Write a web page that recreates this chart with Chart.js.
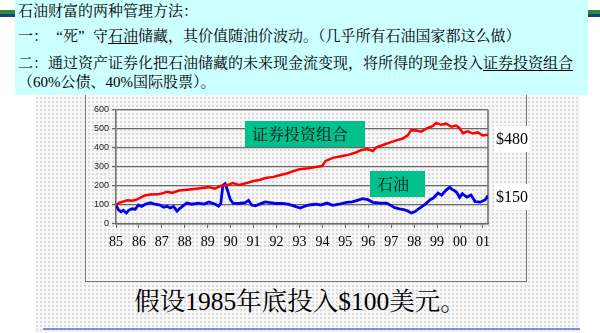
<!DOCTYPE html>
<html>
<head>
<meta charset="utf-8">
<script src="https://cdn.jsdelivr.net/npm/chart.js@4.4.1/dist/chart.umd.min.js"></script>
<style>
  html, body { margin: 0; padding: 0; }
  body { width: 600px; height: 333px; overflow: hidden; position: relative; background: #ffffff;
         font-family: "Liberation Serif", "Noto Serif CJK SC", "Noto Sans CJK SC", serif; color: #000; }
  #bg { position: absolute; left: 35px; top: 0; width: 545px; height: 333px; background-color: #f7f7f7;
        background-image: radial-gradient(#dadada 0.7px, transparent 0.9px); background-size: 4px 4px; }
  .bar { position: absolute; top: 10px; height: 4px; background: #2a8a3c; }
  .bar2 { position: absolute; top: 14px; height: 3px; background: #1c3f7f; }
  #frame { position: absolute; left: 85px; top: 60px; width: 440px; height: 220px; border: 1.5px solid #7a7a7a; }
  #note { position: absolute; left: 15px; top: 0; width: 573px; height: 95px; background: #ccffff; }
  .ln { position: absolute; left: 3px; font-size: 15px; line-height: 18px; white-space: nowrap; }
  .u { text-decoration: underline; text-underline-offset: 2px; }
  .ql { display: inline-block; width: 15px; text-align: right; }
  .qr { display: inline-block; width: 15px; text-align: left; }
  #wrap { position: absolute; left: 86px; top: 96px; width: 440px; height: 185px; }
  .tag { position: absolute; background: #00c18c; font-family: "Noto Serif CJK SC", "Noto Sans CJK SC", sans-serif;
         font-size: 16px; line-height: 26px; color: #111; }
  .val { position: absolute; background: #ffffff; font-family: "Liberation Serif", serif; font-size: 16px;
         line-height: 26px; text-align: center; }
  #foot { position: absolute; left: 0; width: 600px; top: 287px; text-align: center; font-size: 25.5px; line-height: 30px; }
  #bline { position: absolute; left: 43px; width: 537px; top: 328px; height: 2px; background: #7b8fdc; }
</style>
</head>
<body>
<div id="bg"></div>
<div class="bar" style="left:0;width:15px"></div>
<div class="bar2" style="left:0;width:15px"></div>
<div class="bar" style="left:588px;width:12px"></div>
<div class="bar2" style="left:588px;width:12px"></div>
<div id="frame"></div>
<div id="note">
  <div class="ln" style="top:2px">石油财富的两种管理方法：</div>
  <div class="ln" style="top:27px">一：<span class="ql">“</span>死<span class="qr">”</span>守<span class="u">石油</span>储藏，其价值随油价波动。（几乎所有石油国家都这么做）</div>
  <div class="ln" style="top:54px">二：通过资产证券化把石油储藏的未来现金流变现，将所得的现金投入<span class="u">证券投资组合</span></div>
  <div class="ln" style="top:73px">（60%公债、40%国际股票）。</div>
</div>
<div id="wrap"><canvas id="c" width="440" height="185"></canvas></div>
<div class="tag" style="left:245px;top:121px;width:113px;padding-left:7px;">证券投资组合</div>
<div class="tag" style="left:370px;top:171px;width:48px;padding-left:7px;">石油</div>
<div class="val" style="left:494px;top:126px;width:36px;">$480</div>
<div class="val" style="left:494px;top:184px;width:36px;">$150</div>
<div id="foot">假设1985年底投入$100美元。</div>
<div id="bline"></div>
<script>
const yearLabels = ['85','86','87','88','89','90','91','92','93','94','95','96','97','98','99','00','01'];

const portfolioYears = [1985.00,1985.15,1985.30,1985.50,1985.70,1985.85,1986.05,1986.25,1986.50,1986.80,1987.00,1987.22,1987.44,1987.75,1988.10,1988.40,1988.67,1989.05,1989.30,1989.55,1989.85,1990.10,1990.36,1990.70,1991.00,1991.25,1991.52,1991.87,1992.16,1992.45,1992.74,1993.00,1993.40,1993.70,1993.99,1994.14,1994.45,1994.87,1995.16,1995.45,1995.67,1995.95,1996.20,1996.35,1996.64,1996.93,1997.22,1997.51,1997.73,1997.87,1998.09,1998.31,1998.53,1998.82,1998.96,1999.18,1999.40,1999.62,1999.83,1999.98,2000.13,2000.34,2000.56,2000.78,2000.99,2001.22];
const portfolioValues = [100,112,118,125,122,126,138,150,155,156,160,170,164,176,180,184,188,194,186,200,205,216,206,216,226,232,242,248,258,266,278,288,294,300,305,332,348,358,365,376,388,394,384,404,416,428,440,450,468,494,492,486,502,516,532,522,528,512,518,504,478,488,476,482,466,470];

const oilYears = [1985.00,1985.10,1985.22,1985.32,1985.45,1985.55,1985.70,1985.84,1985.98,1986.12,1986.28,1986.50,1986.70,1986.92,1987.08,1987.22,1987.37,1987.51,1987.66,1987.80,1987.95,1988.09,1988.31,1988.60,1988.85,1989.05,1989.33,1989.47,1989.57,1989.66,1989.76,1989.86,1989.98,1990.10,1990.34,1990.63,1990.78,1990.92,1991.07,1991.29,1991.50,1991.72,1991.96,1992.25,1992.54,1992.81,1993.03,1993.20,1993.41,1993.70,1993.92,1994.20,1994.45,1994.72,1995.05,1995.30,1995.52,1995.75,1995.98,1996.20,1996.52,1996.80,1996.95,1997.15,1997.36,1997.55,1997.70,1997.88,1998.02,1998.24,1998.50,1998.70,1998.85,1999.04,1999.20,1999.37,1999.55,1999.65,1999.75,1999.86,1999.98,2000.10,2000.30,2000.48,2000.66,2000.88,2001.10,2001.22];
const oilValues = [100,76,64,72,58,72,80,78,100,92,104,112,104,100,88,93,84,92,68,84,98,110,104,110,105,116,104,94,108,204,212,178,130,110,108,112,124,100,96,106,116,112,108,108,103,93,84,92,100,104,100,110,98,104,114,116,124,133,128,114,110,110,100,86,80,76,70,58,64,84,106,128,138,163,152,176,194,182,176,166,140,160,142,152,118,115,128,150];

const yMin = 0, yMax = 600, yStep = 100;
const xMin = 1985, xMax = 2001.22;

const toPoints = (xs, ys) => xs.map((x, i) => ({ x: x, y: ys[i] }));

const plotRight = {
  id: 'plotRight',
  beforeDatasetsDraw(chart) {
    const { ctx, chartArea: a } = chart;
    ctx.save();
    ctx.strokeStyle = '#6a6a6a';
    ctx.lineWidth = 1.5;
    ctx.beginPath();
    ctx.moveTo(a.right, a.top);
    ctx.lineTo(a.right, a.bottom);
    ctx.stroke();
    ctx.restore();
  }
};

new Chart(document.getElementById('c'), {
  type: 'line',
  data: {
    datasets: [
      { label: '证券投资组合', data: toPoints(portfolioYears, portfolioValues), borderColor: '#ff0000', borderWidth: 2.5, pointRadius: 0, tension: 0, fill: false },
      { label: '石油', data: toPoints(oilYears, oilValues), borderColor: '#0000ee', borderWidth: 2.8, pointRadius: 0, tension: 0, fill: false }
    ]
  },
  options: {
    responsive: false,
    animation: false,
    events: [],
    layout: { padding: { left: 0, right: 38, top: 14, bottom: 0 } },
    plugins: { legend: { display: false }, tooltip: { enabled: false } },
    scales: {
      x: {
        type: 'linear', min: xMin, max: xMax,
        afterBuildTicks: axis => { axis.ticks = yearLabels.map((_, i) => ({ value: xMin + i })); },
        ticks: { autoSkip: false, maxRotation: 0, padding: 6, color: '#000',
                 font: { family: 'Liberation Serif', size: 14 },
                 callback: v => yearLabels[Math.round(v) - xMin] ?? '' },
        grid: { drawOnChartArea: false, drawTicks: true, tickLength: 4, color: '#666', lineWidth: 1 },
        border: { color: '#6a6a6a', width: 1.5 },
        afterFit: axis => { axis.height = 57; }
      },
      y: {
        min: yMin, max: yMax,
        ticks: { stepSize: yStep, padding: 3, color: '#222', font: { family: 'Liberation Sans', size: 9 } },
        grid: { color: '#6a6a6a', lineWidth: 1.2, tickLength: 4 },
        border: { color: '#6a6a6a', width: 1.5 },
        afterFit: axis => { axis.width = 30; }
      }
    }
  },
  plugins: [plotRight]
});
</script>
</body>
</html>
